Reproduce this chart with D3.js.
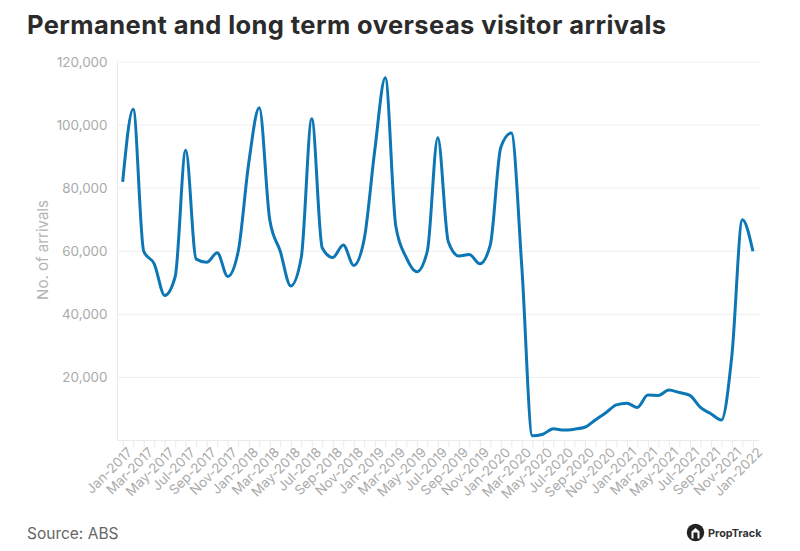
<!doctype html>
<html lang="en">

<head>
    <meta charset="utf-8">
    <title>Permanent and long term overseas visitor arrivals</title>
    <script src="https://cdn.jsdelivr.net/npm/d3@7"></script>
    <style>
        body { margin: 0; background: #fff; }
        text { font-family: Inter, "Open Sans", sans-serif; }
        .title { font-size: 25.5px; font-weight: 700; fill: #2b2b2b; letter-spacing: 0.42px; }
        .source { font-size: 15.5px; fill: #666; }
        .tick-label { font-size: 13.4px; fill: #aaa; }
        .y-title { font-size: 15px; fill: #b4b4b4; }
        .logo-text { font-size: 10.8px; font-weight: 700; fill: #333; }
    </style>
</head>

<body>
    <svg id="chart" width="800" height="551"></svg>

    <script>
        var years = [2017, 2018, 2019, 2020, 2021, 2022];
        var monthNames = ['Jan', 'Feb', 'Mar', 'Apr', 'May', 'Jun', 'Jul', 'Aug', 'Sep', 'Oct', 'Nov', 'Dec'];

        var arrivals = [
            82000, 105000, 60000, 56000, 46000, 52000, 92000, 57500, 56500, 59500, 52000, 60000,
            88000, 105500, 70000, 60000, 49000, 58000, 102000, 61000, 58000, 62000, 55500, 64000,
            92000, 115000, 68000, 58000, 53500, 60000, 96000, 63000, 58500, 59000, 56000, 62000,
            93000, 97500, 55000, 1500, 2000, 3700, 3300, 3600, 4200, 6500, 8800, 11300,
            11800, 10500, 14400, 14300, 16000, 15200, 14300, 10500, 8500, 6500, 27000, 70000,
            60000
        ];

        var yTicks = [20000, 40000, 60000, 80000, 100000, 120000];

        // one category per month, Jan-2017 to Jan-2022
        var months = [];
        years.forEach(function (yr) {
            monthNames.forEach(function (m) {
                if (months.length < arrivals.length) months.push(m + '-' + yr);
            });
        });

        var svg = d3.select('#chart');

        var x = d3.scalePoint().domain(months).range([122.7, 752.9]);
        var y = d3.scaleLinear().domain([0, 120000]).range([440.5, 62]);

        var left = 117.5, right = 759, bottom = 440.5;

        // gridlines and axis frame
        svg.append('g').selectAll('line').data(yTicks).join('line')
            .attr('x1', left).attr('x2', right)
            .attr('y1', function (d) { return y(d); })
            .attr('y2', function (d) { return y(d); })
            .attr('stroke', '#eeeeee').attr('stroke-width', 1);

        svg.append('line').attr('x1', left).attr('x2', left).attr('y1', 62).attr('y2', bottom)
            .attr('stroke', '#eaeaea');
        svg.append('line').attr('x1', left).attr('x2', right).attr('y1', bottom).attr('y2', bottom)
            .attr('stroke', '#eaeaea');

        // y axis
        var yAxis = d3.axisLeft(y).tickValues(yTicks).tickSize(0).tickPadding(10)
            .tickFormat(d3.format(','));
        var yG = svg.append('g').attr('transform', 'translate(' + left + ',0)').call(yAxis);
        yG.select('.domain').remove();
        yG.selectAll('text').attr('class', 'tick-label').attr('fill', null);

        // x axis, label on every second month
        var xAxis = d3.axisBottom(x).tickSize(7).tickPadding(3)
            .tickFormat(function (d, i) { return i % 2 === 0 ? d : ''; });
        var xG = svg.append('g').attr('transform', 'translate(0,' + bottom + ')').call(xAxis);
        xG.select('.domain').remove();
        xG.selectAll('line').attr('stroke', '#eaeaea');
        xG.selectAll('text').attr('class', 'tick-label')
            .attr('fill', null)
            .attr('text-anchor', 'end')
            .attr('dx', '-2px')
            .attr('dy', '6px')
            .attr('transform', 'rotate(-45)');

        // the line
        var line = d3.line()
            .x(function (d, i) { return x(months[i]); })
            .y(function (d) { return y(d); })
            .curve(d3.curveMonotoneX);

        svg.append('path').datum(arrivals)
            .attr('d', line)
            .attr('fill', 'none')
            .attr('stroke', '#0d76b4')
            .attr('stroke-width', 3)
            .attr('stroke-linejoin', 'round');

        svg.append('text').attr('class', 'title').attr('x', 27).attr('y', 34)
            .text('Permanent and long term overseas visitor arrivals');

        svg.append('text').attr('class', 'y-title')
            .attr('transform', 'translate(48,250) rotate(-90)')
            .attr('text-anchor', 'middle')
            .text('No. of arrivals');

        svg.append('text').attr('class', 'source').attr('x', 27).attr('y', 539).text('Source: ABS');

        // PropTrack logo
        var logo = svg.append('g').attr('transform', 'translate(695.5,532.5)');
        logo.append('circle').attr('r', 8.7).attr('fill', '#222');
        logo.append('path').attr('d', 'M-4,6V-1L0,-4.5L4,-1V6H2V0H-2V6Z').attr('fill', '#fff');
        svg.append('text').attr('class', 'logo-text').attr('x', 708).attr('y', 537).text('PropTrack');
    </script>
</body>

</html>
